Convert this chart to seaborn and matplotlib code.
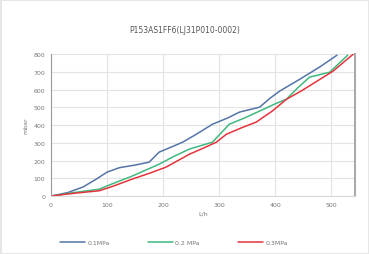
import matplotlib
matplotlib.use("Agg")
import matplotlib.pyplot as plt
import seaborn as sns
import pandas as pd

# values
x_01 = [0, 30, 57, 81, 100, 122, 150, 175, 193, 210, 235, 260, 288, 315, 336, 372, 390, 408, 444, 479, 510]
y_01 = [0, 20, 51, 96, 135, 160, 175, 191, 248, 270, 304, 350, 405, 440, 473, 501, 550, 592, 659, 727, 794]
x_02 = [0, 30, 60, 86, 110, 145, 193, 220, 247, 288, 318, 345, 372, 400, 420, 440, 461, 497, 529]
y_02 = [0, 15, 28, 39, 70, 113, 180, 225, 265, 304, 405, 440, 479, 520, 546, 610, 670, 698, 794]
x_03 = [0, 30, 60, 86, 110, 145, 175, 205, 247, 270, 295, 313, 340, 366, 395, 420, 445, 467, 503, 539]
y_03 = [0, 12, 22, 30, 55, 96, 128, 163, 236, 268, 304, 349, 385, 417, 480, 546, 590, 633, 704, 800]
labels = ["0.1MPa", "0.2 MPa", "0.3MPa"]
colors = ["#5474a8", "#3fb87e", "#e5333b"]

df = pd.concat([
    pd.DataFrame({"flow": x_01, "dp": y_01, "series": labels[0]}),
    pd.DataFrame({"flow": x_02, "dp": y_02, "series": labels[1]}),
    pd.DataFrame({"flow": x_03, "dp": y_03, "series": labels[2]}),
])

sns.set_style("white")
plt.rcParams["font.family"] = ["DejaVu Sans"]

fig = plt.figure(figsize=(3.69, 2.55), dpi=100)
fig.patch.set_edgecolor("#e6e6e6")
fig.patch.set_linewidth(1.0)
ax = fig.add_axes([0.138, 0.227, 0.824, 0.557])

sns.lineplot(data=df, x="flow", y="dp", hue="series", palette=colors,
             sort=False, estimator=None, linewidth=1.1, ax=ax)

ax.set_xlim(0, 542)
ax.set_ylim(0, 800)
ax.set_xticks([0, 100, 200, 300, 400, 500])
ax.set_yticks(range(0, 801, 100))
ax.grid(True, color="#e3e3e3", linewidth=0.8)
ax.tick_params(labelsize=4.5, colors="#777777", length=0, pad=4)
ax.spines["top"].set_visible(False)
ax.spines["left"].set_color("#999999")
ax.spines["right"].set_color("#aaaaaa")
ax.spines["right"].set_linewidth(1.5)
ax.spines["bottom"].set_color("#d9d9d9")

ax.set_xlabel("L/h", fontsize=4.5, color="#777777", labelpad=3)
ax.set_ylabel("mbar", fontsize=4.5, color="#777777", labelpad=4)
fig.text(0.5, 0.88, "P153AS1FF6(LJ31P010-0002)", ha="center", va="center",
         fontsize=5.5, color="#555555")

handles, lbls = ax.get_legend_handles_labels()
ax.legend(handles, lbls, loc="center", bbox_to_anchor=(0.405, -0.325), ncol=3,
          frameon=False, fontsize=4.5, columnspacing=6.2, handlelength=4,
          handletextpad=0.3, labelcolor="#777777")

fig.savefig("out.png", dpi=100)
